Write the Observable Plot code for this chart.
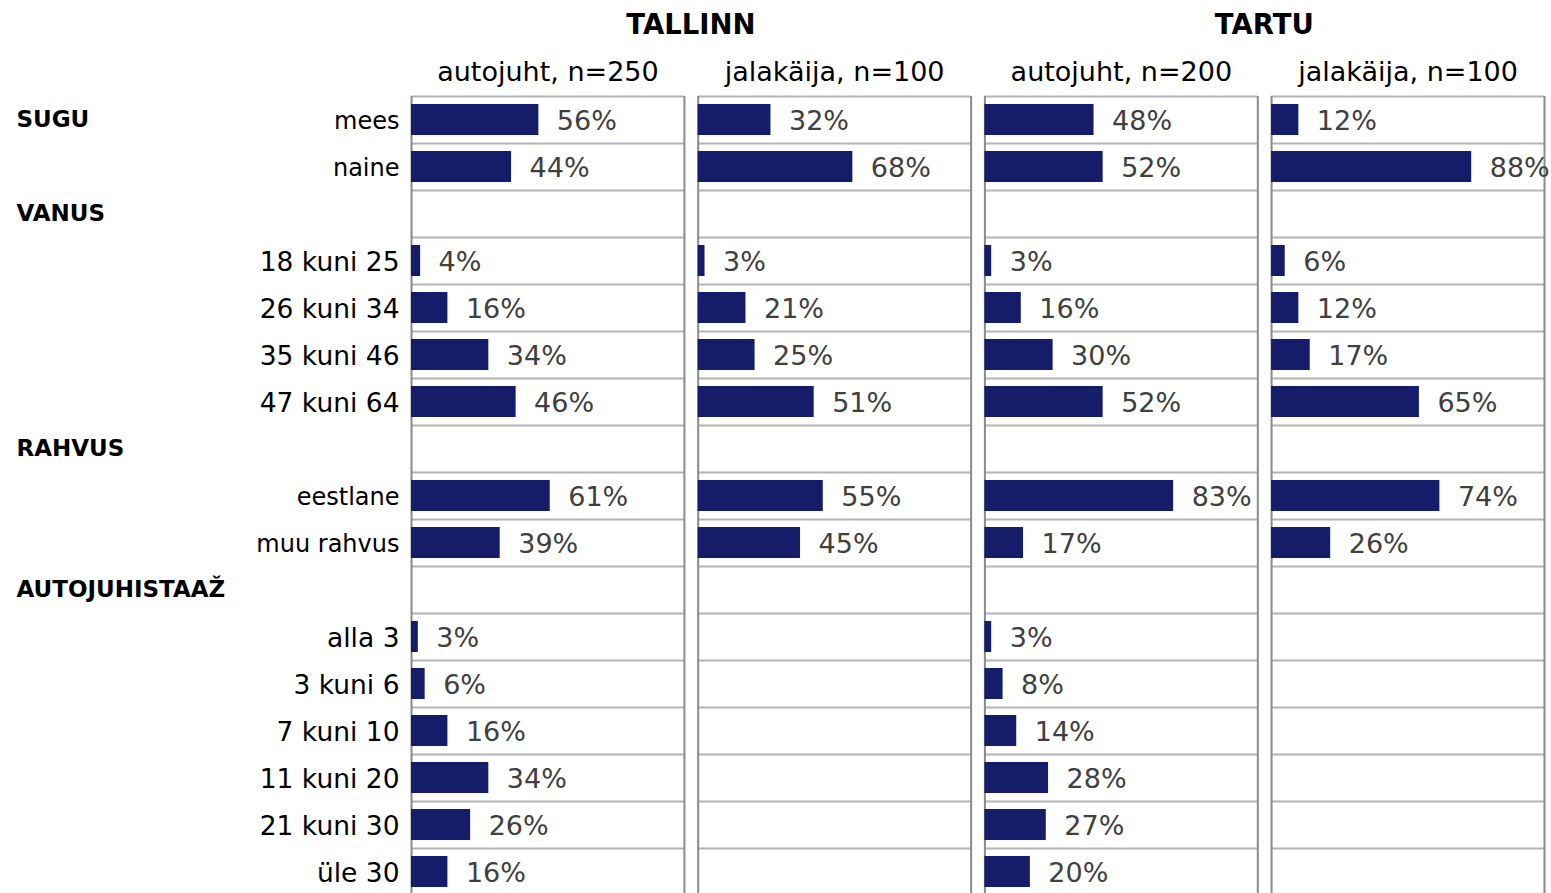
<!DOCTYPE html>
<html><head><meta charset="utf-8">
<script src="https://cdn.jsdelivr.net/npm/d3@7"></script>
<script src="https://cdn.jsdelivr.net/npm/@observablehq/plot@0.6"></script>
<style>body{margin:0;background:#fff}</style>
</head><body><div id="chart"></div>
<script>
// ---- data ----
const panels = ["Tallinn autojuht", "Tallinn jalakäija", "Tartu autojuht", "Tartu jalakäija"];
const panelTitles = ["autojuht, n=250", "jalakäija, n=100", "autojuht, n=200", "jalakäija, n=100"];
const cities = ["TALLINN", "TARTU"];
const cityPanels = ["Tallinn autojuht", "Tartu autojuht"];
const rows = ["mees", "naine", "VANUS", "18 kuni 25", "26 kuni 34", "35 kuni 46", "47 kuni 64",
  "RAHVUS", "eestlane", "muu rahvus", "AUTOJUHISTAAŽ",
  "alla 3", "3 kuni 6", "7 kuni 10", "11 kuni 20", "21 kuni 30", "üle 30"];
const groupNames = ["SUGU", "VANUS", "RAHVUS", "AUTOJUHISTAAŽ"];
const groupRows = ["mees", "VANUS", "RAHVUS", "AUTOJUHISTAAŽ"];
const headerRows = ["VANUS", "RAHVUS", "AUTOJUHISTAAŽ"];
const tallinnAuto = [56, 44, null, 4, 16, 34, 46, null, 61, 39, null, 3, 6, 16, 34, 26, 16];
const tallinnJala = [32, 68, null, 3, 21, 25, 51, null, 55, 45, null, null, null, null, null, null, null];
const tartuAuto   = [48, 52, null, 3, 16, 30, 52, null, 83, 17, null, 3, 8, 14, 28, 27, 20];
const tartuJala   = [12, 88, null, 6, 12, 17, 65, null, 74, 26, null, null, null, null, null, null, null];

const series = [tallinnAuto, tallinnJala, tartuAuto, tartuJala];
const data = [];
series.forEach((vals, p) => vals.forEach((v, i) => {
  if (v != null) data.push({panel: panels[p], row: rows[i], value: v});
}));
const titleData = panels.map((p, i) => ({panel: p, title: panelTitles[i]}));
const cityData = cities.map((c, i) => ({panel: cityPanels[i], city: c}));
const groupData = groupNames.map((g, i) => ({group: g, row: groupRows[i]}));
const catData = rows.filter(r => !headerRows.includes(r)).map(r => ({row: r}));

// ---- layout ----
const W = 1551, H = 893, mT = 96, mB = 0, mL = 411, mR = 7;
const rowStep = 47;
const yRange = [mT, mT + rowStep * rows.length];
const font = "DejaVu Sans, Verdana, sans-serif";

const chart = Plot.plot({
  width: W, height: H,
  marginTop: mT, marginBottom: mB, marginLeft: mL, marginRight: mR,
  style: {fontFamily: font, background: "#fff", overflow: "hidden"},
  fx: {domain: panels, paddingInner: 0.048, paddingOuter: 0, round: false, axis: null},
  x: {domain: [0, 120], axis: null},
  y: {domain: rows, range: yRange, paddingInner: 0.34, paddingOuter: 0.17, round: false, axis: null},
  marks: [
    Plot.ruleY(rows, {y: d => d, dy: -rowStep / 2, stroke: "#b4b4b4", strokeWidth: 2}),
    Plot.ruleX([0, 120], {stroke: "#8a8a8a", strokeWidth: 2}),
    Plot.barX(data, {fx: "panel", y: "row", x: "value", fill: "#151c69"}),
    Plot.text(data, {fx: "panel", y: "row", x: "value", text: d => d.value + "%",
      dx: 18, dy: 1.5, textAnchor: "start", fontSize: 27, fill: "#404040"}),
    Plot.text(titleData, {fx: "panel", text: "title", frameAnchor: "top", dy: -24,
      lineAnchor: "middle", fontSize: 27, fill: "#000"}),
    Plot.text(cityData, {fx: "panel", text: "city", frameAnchor: "top-right", dx: 6.5, dy: -71,
      lineAnchor: "middle", textAnchor: "middle", fontSize: 27.5, fontWeight: "bold", fill: "#000"}),
    Plot.text(catData, {fx: () => panels[0], y: "row", text: "row", frameAnchor: "left", dx: -12, dy: 1.5,
      textAnchor: "end", fontSize: d => /\d/.test(d.row) ? 26.5 : 24, fill: "#000"}),
    Plot.text(groupData, {fx: () => panels[0], y: "row", text: "group", frameAnchor: "left", dx: -(mL - 16),
      textAnchor: "start", fontSize: 23, fontWeight: "bold", fill: "#000"})
  ]
});
document.getElementById("chart").appendChild(chart);
</script>
</body></html>
